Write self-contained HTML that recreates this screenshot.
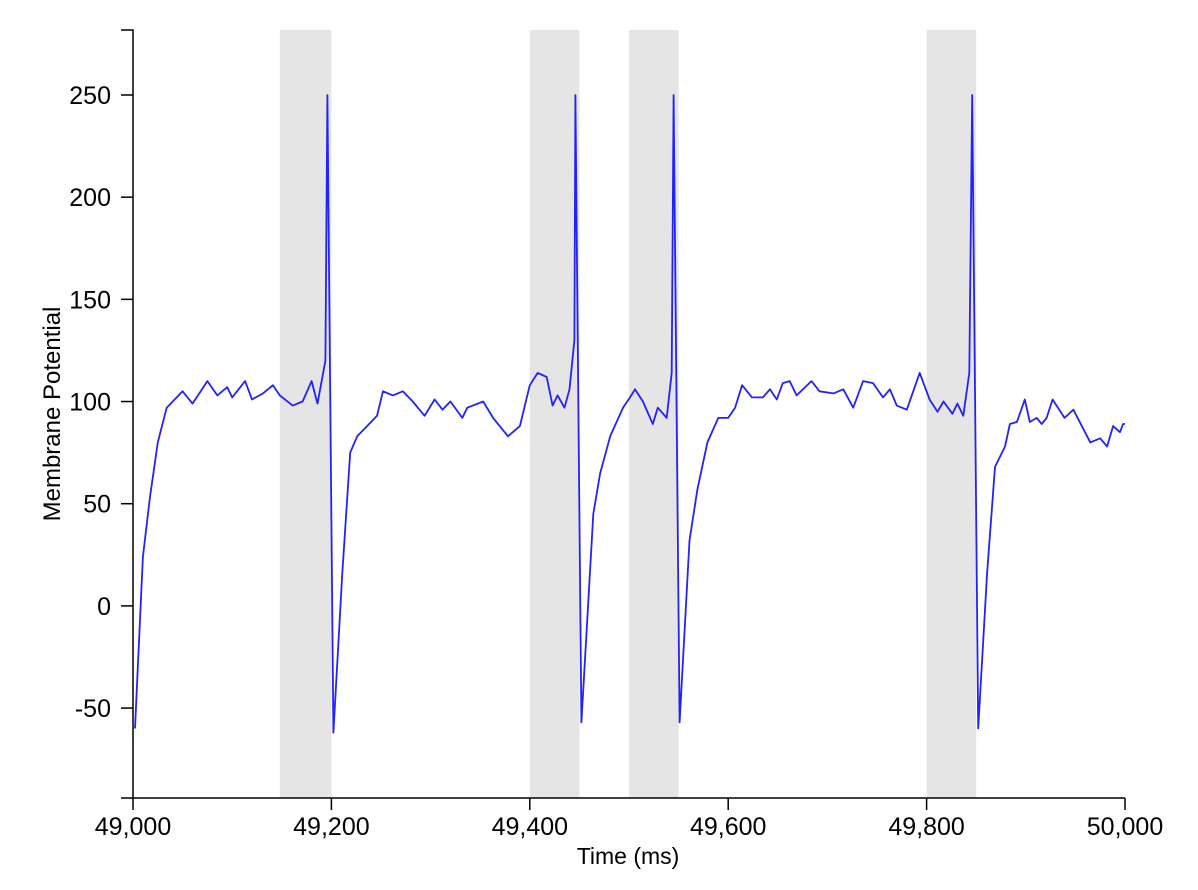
<!DOCTYPE html>
<html><head><meta charset="utf-8"><style>
body{margin:0;background:#fff;}
svg{display:block;font-family:"Liberation Sans",Arial,sans-serif;}
</style></head><body>
<svg id="chart" width="1198" height="890">
<g id="bands"></g>
<g id="trace"></g>
<g id="axes"></g>
<text x="628" y="864" text-anchor="middle" font-size="23">Time (ms)</text>
<text transform="translate(60,414) rotate(-90)" text-anchor="middle" font-size="24">Membrane Potential</text>
</svg>
<script>
const times=[2,10,17,25,34,50,60,75,85,95,100,113,120,131,141,148,161,171,180,186,194,196,202,211,219,226,236,246,252,262,272,282,294,304,312,320,332,337,353,363,378,390,400,408,417,423,428,435,440,445,446,452,464,471,481,494,501,506,514,524,529,538,543,545,551,561,569,579,590,600,607,614,624,635,642,649,655,662,669,684,692,706,716,726,736,746,756,763,770,780,793,803,811,817,826,831,837,843,846,852,861,869,879,884,891,899,904,911,916,921,927,939,948,965,975,982,988,995,998,1000];
const potentials=[-60,24,53,80,97,105,99,110,103,107,102,110,101,104,108,103,98,100,110,99,120,250,-62,16,75,83,88,93,105,103,105,100,93,101,96,100,92,97,100,92,83,88,108,114,112,98,103,97,106,130,250,-57,45,65,83,97,102,106,100,89,97,92,114,250,-57,32,57,80,92,92,97,108,102,102,106,101,109,110,103,110,105,104,106,97,110,109,102,106,98,96,114,101,95,100,94,99,93,114,250,-60,16,68,78,89,90,101,90,92,89,92,101,92,96,80,82,78,88,85,89,89];
const bandStarts=[148,400,500,800];
const bandEnds=[200,450,550,850];
const xTicks=[49000,49200,49400,49600,49800,50000];
const xTickLabels=["49,000","49,200","49,400","49,600","49,800","50,000"];
const yTicks=[-50,0,50,100,150,200,250];
const yTickLabels=["-50","0","50","100","150","200","250"];

const NS="http://www.w3.org/2000/svg";
const X0=133,X1=1125,Y0=798,Y1=30,TK=12;
const xMin=49000,xMax=50000,yMin=-94,yMax=281.8;
const xs=t=>X0+(t-xMin)/(xMax-xMin)*(X1-X0);
const ys=v=>Y0-(v-yMin)/(yMax-yMin)*(Y0-Y1);
function mk(tag,parent){const e=document.createElementNS(NS,tag);parent.appendChild(e);return e;}

const bands=document.getElementById('bands');
for(let i=0;i<bandStarts.length;i++){
  const r=mk('rect',bands);
  
  
  const a=xs(xMin+bandStarts[i]),b=xs(xMin+bandEnds[i]);
  r.setAttribute('x',a);r.setAttribute('y',Y1);r.setAttribute('width',b-a);r.setAttribute('height',Y0-Y1);
  r.setAttribute('fill','#e5e5e5');
}
const trace=document.getElementById('trace');
const p=mk('path',trace);


p.setAttribute('d',times.map((t,i)=>(i?'L':'M')+xs(xMin+t).toFixed(1)+','+ys(potentials[i]).toFixed(1)).join(''));
p.setAttribute('fill','none');p.setAttribute('stroke','#2222ff');p.setAttribute('stroke-width','1.8');p.setAttribute('stroke-linejoin','round');

const axes=document.getElementById('axes');
const xa=mk('path',axes);


xa.setAttribute('d',`M${X0},${Y0}H${X1}`);xa.setAttribute('stroke','#000');xa.setAttribute('stroke-width','1.5');
const ya=mk('path',axes);


ya.setAttribute('d',`M${X0-TK},${Y1}H${X0}V${Y0}H${X0-TK}`);ya.setAttribute('fill','none');ya.setAttribute('stroke','#000');ya.setAttribute('stroke-width','1.5');
xTicks.forEach((t,i)=>{
  const x=xs(t);
  const l=mk('line',axes);
  
  
  l.setAttribute('x1',x);l.setAttribute('x2',x);l.setAttribute('y1',Y0);l.setAttribute('y2',Y0+TK);l.setAttribute('stroke','#000');l.setAttribute('stroke-width','1.5');
  const tx=mk('text',axes);
  
  
  tx.setAttribute('x',x);tx.setAttribute('y',Y0+37);tx.setAttribute('text-anchor','middle');tx.setAttribute('font-size','25');
  tx.textContent=xTickLabels[i];
});
yTicks.forEach((v,i)=>{
  const y=ys(v);
  const l=mk('line',axes);
  
  
  l.setAttribute('x1',X0-TK);l.setAttribute('x2',X0);l.setAttribute('y1',y);l.setAttribute('y2',y);l.setAttribute('stroke','#000');l.setAttribute('stroke-width','1.5');
  const tx=mk('text',axes);
  
  
  tx.setAttribute('x',X0-22);tx.setAttribute('y',y+9);tx.setAttribute('text-anchor','end');tx.setAttribute('font-size','25');
  tx.textContent=yTickLabels[i];
});
</script>
</body></html>
